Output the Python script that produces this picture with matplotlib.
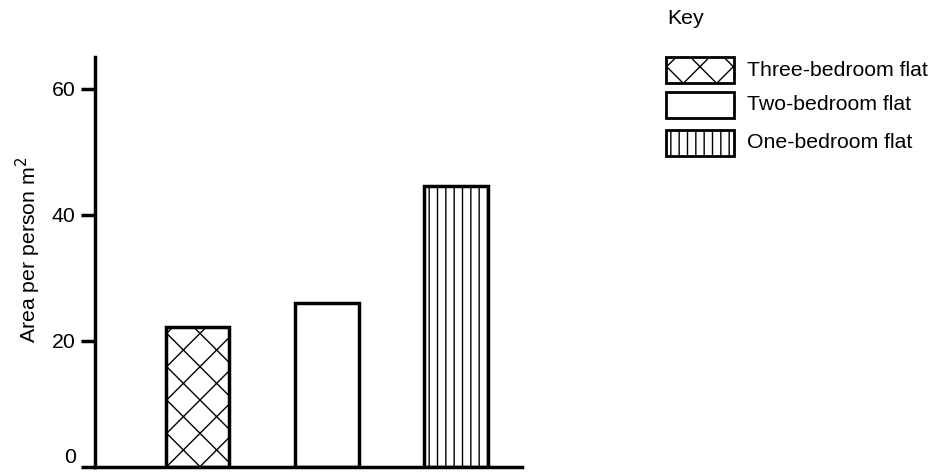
import matplotlib.pyplot as plt
from matplotlib.patches import Rectangle

plt.rcParams['font.family'] = ['Liberation Sans', 'DejaVu Sans']
plt.rcParams['hatch.linewidth'] = 1.0

# data
flats = ["Three-bedroom flat", "Two-bedroom flat", "One-bedroom flat"]
area = [22.2, 26.0, 44.6]
hatches = ["x", "", "||"]
yticks = [0, 20, 40, 60]

W, H = 931, 472
fs = 15.3
fig = plt.figure(figsize=(W / 100, H / 100), dpi=100)
ax = fig.add_axes([95 / W, 5 / H, 427 / W, 410 / H])

for i, (v, h) in enumerate(zip(area, hatches)):
    ax.bar(i, v, width=0.49, facecolor="white", edgecolor="black",
           linewidth=2.5, hatch=h)

ax.set_xlim(-0.795, 2.51)
ax.set_ylim(0, 65)
ax.set_xticks([])
ax.set_yticks(yticks)
ax.tick_params(axis="y", direction="out", length=10, width=2.5, labelsize=fs, pad=4)
ax.get_yticklabels()[0].set_verticalalignment("bottom")
for s in ["top", "right"]:
    ax.spines[s].set_visible(False)
for s in ["left", "bottom"]:
    ax.spines[s].set_linewidth(2.5)
ax.set_ylabel("Area per person m$^2$", fontsize=fs)
ax.yaxis.set_label_coords(-0.121, 0.53)

# key
fig.text(667 / W, 1 - 18 / H, "Key", fontsize=fs, va="center", ha="left")
box_tops = [57, 92, 130]
for name, h, top in zip(flats, hatches, box_tops):
    r = Rectangle((666 / W, 1 - (top + 26) / H), 68 / W, 26 / H,
                  transform=fig.transFigure, facecolor="white",
                  edgecolor="black", linewidth=2, hatch=h)
    fig.patches.append(r)
    fig.text(747 / W, 1 - (top + 13) / H, name, fontsize=fs,
             va="center", ha="left")

fig.savefig("out.png", dpi=100)
